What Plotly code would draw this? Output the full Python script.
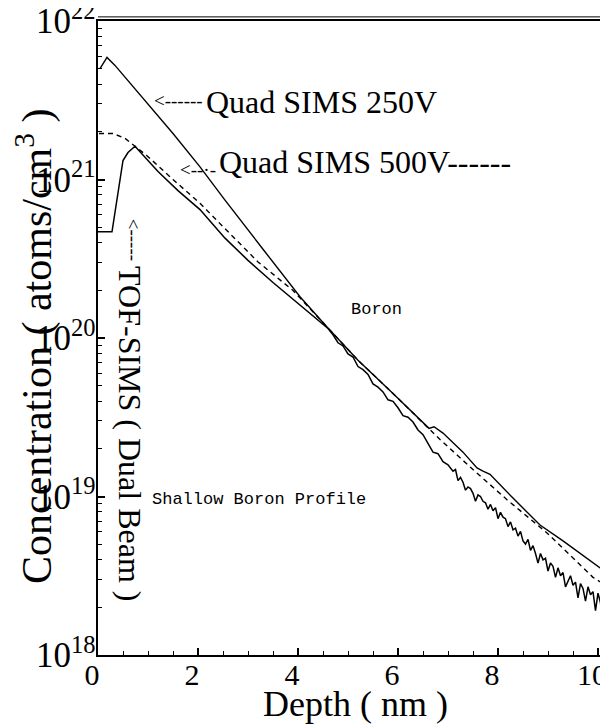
import plotly.graph_objects as go

# ---- data (depth in nm, concentration as log10 exponent) ----
q250_depth = [0.04, 0.18, 0.34, 0.94, 1.5, 2.04, 2.54, 3.3, 4.04, 4.58, 5.2, 5.90, 6.38, 6.62,
              6.72, 6.90, 7.3, 7.58, 7.70, 7.84, 8.30, 8.84, 9.30, 9.70, 10.04, 10.2]
q250_log = [21.70, 21.77, 21.72, 21.50, 21.29, 21.08, 20.87, 20.56, 20.26, 20.07, 19.86, 19.65, 19.50, 19.43,
            19.44, 19.40, 19.28, 19.18, 19.16, 19.14, 18.99, 18.82, 18.72, 18.63, 18.55, 18.54]

q500_depth = [0.02, 0.3, 0.54, 0.98, 1.5, 2.04, 2.54, 3.2, 3.90, 4.58, 5.2, 5.90, 6.84, 7.50,
              8.18, 8.98, 9.90, 10.2]
q500_log = [21.29, 21.29, 21.26, 21.15, 21.00, 20.85, 20.69, 20.48, 20.30, 20.07, 19.86, 19.65, 19.36, 19.17,
            18.98, 18.77, 18.49, 18.43]

tof_depth = [0.0, 0.28, 0.50, 0.60, 0.74, 0.80, 1.2, 1.6, 2.04, 2.54, 3.0, 3.5, 4.0, 4.3,
             4.6, 4.7, 4.8, 4.9, 5.0, 5.1, 5.2, 5.3, 5.4, 5.5, 5.6, 5.7, 5.8, 5.9, 6.0, 6.1, 6.2,
             6.3, 6.4, 6.5, 6.6, 6.7, 6.8, 6.9, 7.0,
             7.05, 7.10, 7.15, 7.20, 7.25, 7.30, 7.35, 7.40, 7.45, 7.50, 7.55, 7.60, 7.65, 7.70,
             7.75, 7.80, 7.85, 7.90, 7.95, 8.00, 8.05, 8.10, 8.15, 8.20, 8.25, 8.30, 8.35, 8.40,
             8.45, 8.50, 8.55, 8.60, 8.65, 8.70, 8.75, 8.80, 8.85, 8.90, 8.95, 9.00, 9.05, 9.10,
             9.15, 9.20, 9.25, 9.30, 9.35, 9.40, 9.45, 9.50, 9.55, 9.60, 9.65, 9.70, 9.75, 9.80,
             9.85, 9.90, 9.95, 10.00, 10.05, 10.10, 10.15, 10.20]
tof_log = [20.67, 20.67, 21.12, 21.17, 21.21, 21.19, 21.05, 20.93, 20.81, 20.63, 20.49, 20.35, 20.22, 20.14,
           20.06, 20.02, 19.97, 19.95, 19.90, 19.88, 19.82, 19.80, 19.77, 19.71, 19.69, 19.66, 19.61, 19.60,
           19.56, 19.51, 19.50, 19.47, 19.42, 19.39, 19.33, 19.28, 19.27, 19.22, 19.20,
           19.18, 19.16, 19.17, 19.10, 19.12, 19.09, 19.04, 19.06, 19.05, 19.02, 18.97, 19.01, 19.00, 18.97,
           18.96, 18.92, 18.95, 18.91, 18.93, 18.86, 18.90, 18.87, 18.86, 18.81, 18.84, 18.79, 18.80, 18.75,
           18.78, 18.72, 18.70, 18.73, 18.66, 18.69, 18.64, 18.58, 18.64, 18.60, 18.61, 18.53, 18.58, 18.56,
           18.49, 18.55, 18.50, 18.52, 18.43, 18.47, 18.50, 18.44, 18.46, 18.36, 18.45, 18.42, 18.34, 18.43,
           18.38, 18.40, 18.28, 18.39, 18.33, 18.15, 18.32, 18.20]

x_ticks = [0, 2, 4, 6, 8, 10]

SERIF = "Liberation Serif, Times New Roman, serif"
MONO = "Liberation Mono, DejaVu Sans Mono, monospace"

def to_conc(vals):
    return [10 ** v for v in vals]

fig = go.Figure()
fig.add_trace(go.Scatter(x=q250_depth, y=to_conc(q250_log), mode="lines",
                         line=dict(color="black", width=1.4), name="Quad SIMS 250V"))
fig.add_trace(go.Scatter(x=q500_depth, y=to_conc(q500_log), mode="lines",
                         line=dict(color="black", width=1.4, dash="5px,4px"), name="Quad SIMS 500V"))
fig.add_trace(go.Scatter(x=tof_depth, y=to_conc(tof_log), mode="lines",
                         line=dict(color="black", width=1.5), name="TOF-SIMS (Dual Beam)"))

# the page body has an 8px margin, so the figure is sized/offset to compensate
fig.update_layout(
    width=600, height=717,
    margin=dict(l=90, r=0, t=13, b=70),
    paper_bgcolor="white", plot_bgcolor="white",
    showlegend=False,
    font=dict(family=SERIF, color="black"),
    xaxis=dict(range=[0, 10.2], tickvals=x_ticks, showgrid=False, zeroline=False, automargin=False,
               showline=True, linecolor="black", linewidth=2, mirror=True,
               ticks="inside", ticklen=7, tickwidth=1.5, tickcolor="black",
               ticklabeloverflow="allow", ticklabelshift=-6, ticklabelstandoff=-8,
               tickfont=dict(family=SERIF, size=30, color="black"),
               minor=dict(dtick=0.5, ticks="inside", ticklen=4, tickcolor="black", tickwidth=1)),
    yaxis=dict(type="log", range=[18, 22], dtick=1, showgrid=False, zeroline=False, automargin=False,
               showline=True, linecolor="black", linewidth=2,
               ticks="inside", ticklen=7, tickwidth=1.5, tickcolor="black",
               exponentformat="power", ticklabeloverflow="allow", ticklabelstandoff=-5,
               tickfont=dict(family=SERIF, size=28, color="black"),
               minor=dict(ticks="inside", ticklen=4, tickcolor="black", tickwidth=1, dtick="D1")),
    shapes=[dict(type="line", xref="paper", yref="paper", x0=0.0, x1=1.0, y0=1.0065, y1=1.0065,
                 line=dict(color="black", width=1))],
)

ann = []
# axis titles
ann.append(dict(xref="paper", yref="paper", x=-0.124, y=0.487, text="Concentration ( atoms/cm<sup>3</sup> )",
                textangle=-90, showarrow=False, font=dict(family=SERIF, size=42, color="black"),
                xanchor="center", yanchor="middle"))
ann.append(dict(xref="paper", yref="paper", x=0.504, y=-0.078, text="Depth ( nm )",
                showarrow=False, font=dict(family=SERIF, size=36, color="black"),
                xanchor="center", yanchor="middle"))
# Quad SIMS 250V label with dashed arrow
ann.append(dict(xref="x", yref="y", x=2.14, y=21.50, text="&lt;------", showarrow=False,
                xanchor="right", yanchor="middle", font=dict(family=SERIF, size=19, color="black")))
ann.append(dict(xref="x", yref="y", x=2.12, y=21.49, text="Quad SIMS 250V", showarrow=False,
                xanchor="left", yanchor="middle", font=dict(family=SERIF, size=32, color="black")))
# Quad SIMS 500V label
ann.append(dict(xref="x", yref="y", x=2.40, y=21.06, text="&lt;--·-", showarrow=False,
                xanchor="right", yanchor="middle", font=dict(family=SERIF, size=19, color="black")))
ann.append(dict(xref="x", yref="y", x=2.38, y=21.11, text="Quad SIMS 500V------", showarrow=False,
                xanchor="left", yanchor="middle", font=dict(family=SERIF, size=32, color="black")))
# TOF-SIMS vertical label with arrow
ann.append(dict(xref="x", yref="y", x=0.70, y=20.62, text="&lt;-----", showarrow=False, textangle=90,
                xanchor="center", yanchor="middle", font=dict(family=SERIF, size=19, color="black")))
ann.append(dict(xref="x", yref="y", x=0.64, y=19.40, text="TOF-SIMS ( Dual Beam )", showarrow=False,
                textangle=90, xanchor="center", yanchor="middle",
                font=dict(family=SERIF, size=32, color="black")))
# plotter-style labels
ann.append(dict(xref="x", yref="y", x=5.56, y=20.18, text="Boron", showarrow=False,
                xanchor="center", yanchor="middle", font=dict(family=MONO, size=17, color="black")))
ann.append(dict(xref="x", yref="y", x=1.04, y=18.98, text="Shallow Boron Profile", showarrow=False,
                xanchor="left", yanchor="middle", font=dict(family=MONO, size=17, color="black")))
fig.update_layout(annotations=ann)

fig.write_html("out.html")
